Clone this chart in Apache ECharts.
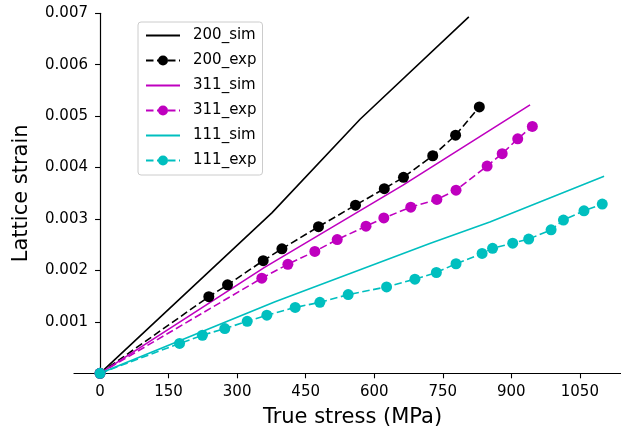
<!DOCTYPE html>
<html>
<head>
<meta charset="utf-8">
<script src="https://cdn.jsdelivr.net/npm/echarts@6/dist/echarts.min.js"></script>
<style>
  html, body { margin: 0; padding: 0; background: #ffffff; }
  #chart { width: 621px; height: 435px; }
</style>
</head>
<body>
<div id="chart"></div>
<script>
// Lattice strain vs. true stress for three grain families (simulation and experiment)
const seriesNames = ['200_sim', '200_exp', '311_sim', '311_exp', '111_sim', '111_exp'];

// True stress (MPa) and lattice strain for each series
const stress200Sim = [0, 376, 569, 807];
const strain200Sim = [0, 0.00312, 0.00494, 0.00693];

const stress200Exp = [0, 238, 279, 357, 398, 478, 559, 622, 664, 728, 778, 830];
const strain200Exp = [0, 0.00149, 0.00172, 0.00219, 0.00242, 0.00285, 0.00327, 0.00359, 0.00381, 0.00423, 0.00463, 0.00518];

const stress311Sim = [0, 360, 663, 941];
const strain311Sim = [0, 0.00206, 0.00366, 0.00522];

const stress311Exp = [0, 354, 411, 470, 519, 582, 621, 680, 737, 779, 847, 880, 914, 946];
const strain311Exp = [0, 0.00185, 0.00212, 0.00237, 0.00260, 0.00286, 0.00302, 0.00323, 0.00338, 0.00356, 0.00403, 0.00427, 0.00456, 0.00480];

const stress111Sim = [0, 383, 723, 853, 1103];
const strain111Sim = [0, 0.00139, 0.00253, 0.00294, 0.00383];

const stress111Exp = [0, 174, 224, 273, 322, 365, 427, 481, 543, 627, 689, 736, 779, 836, 859, 903, 938, 987, 1014, 1059, 1099];
const strain111Exp = [0, 0.00058, 0.00074, 0.00087, 0.00101, 0.00113, 0.00128, 0.00138, 0.00153, 0.00168, 0.00183, 0.00196, 0.00213, 0.00233, 0.00243, 0.00253, 0.00261, 0.00279, 0.00298, 0.00316, 0.00329];

// Axis ticks
const xTicks = [0, 150, 300, 450, 600, 750, 900, 1050];
const yTicks = [0.001, 0.002, 0.003, 0.004, 0.005, 0.006, 0.007];

const BLACK = '#000000';
const MAGENTA = '#bf00bf';
const CYAN = '#00bfbf';
const FONT = 'DejaVu Sans';

const zip = (xs, ys) => xs.map((x, i) => [x, ys[i]]);

function simSeries(name, color, xs, ys) {
  return {
    name: name,
    type: 'line',
    data: zip(xs, ys),
    symbol: 'none',
    lineStyle: { color: color, width: 1.6 },
    itemStyle: { color: color },
    animation: false,
    silent: true
  };
}

function expSeries(name, color, xs, ys) {
  return {
    name: name,
    type: 'line',
    data: zip(xs, ys),
    symbol: 'circle',
    symbolSize: 11,
    showAllSymbol: true,
    lineStyle: { color: color, width: 1.6, type: [7.5, 3.5] },
    itemStyle: { color: color, borderWidth: 0 },
    animation: false,
    silent: true
  };
}

// Simulated curves show a plain line in the legend, experimental ones a line with a dot
const legendData = seriesNames.map(n => n.endsWith('_sim')
  ? { name: n, itemStyle: { opacity: 0 } }
  : { name: n });

const chart = echarts.init(document.getElementById('chart'), null, { renderer: 'canvas' });

chart.setOption({
  backgroundColor: '#ffffff',
  animation: false,
  grid: { left: 74, right: 0, top: 13.3, bottom: 61.7, containLabel: false, outerBoundsMode: 'none' },
  xAxis: {
    type: 'value',
    min: -57,
    max: 1140,
    name: 'True stress (MPa)',
    nameLocation: 'middle',
    nameGap: 34,
    nameMoveOverlap: false,
    nameTextStyle: { fontFamily: FONT, fontSize: 21, color: '#000', padding: [0, 0, 0, 10] },
    axisLine: { onZero: true, lineStyle: { color: '#000', width: 1.2 } },
    axisTick: { show: true, length: 5, customValues: xTicks, lineStyle: { color: '#000', width: 1.1 } },
    axisLabel: {
      customValues: xTicks,
      margin: 11,
      fontFamily: FONT,
      fontSize: 15,
      color: '#000',
      formatter: v => String(v)
    },
    splitLine: { show: false }
  },
  yAxis: {
    type: 'value',
    min: 0,
    max: 0.007,
    name: 'Lattice strain',
    nameLocation: 'middle',
    nameGap: 42,
    nameMoveOverlap: false,
    nameTextStyle: { fontFamily: FONT, fontSize: 21, color: '#000' },
    axisLine: { onZero: true, lineStyle: { color: '#000', width: 1.2 } },
    axisTick: { show: true, length: 5, customValues: yTicks, lineStyle: { color: '#000', width: 1.1 } },
    axisLabel: {
      customValues: yTicks,
      margin: -14,
      fontFamily: FONT,
      fontSize: 15,
      color: '#000',
      formatter: v => v.toFixed(3)
    },
    splitLine: { show: false }
  },
  legend: {
    data: legendData,
    orient: 'vertical',
    left: 138,
    top: 22,
    itemWidth: 34,
    itemHeight: 12.5,
    itemGap: 10,
    padding: [6, 6, 7, 7],
    backgroundColor: 'rgba(255,255,255,0.8)',
    borderColor: '#cccccc',
    borderWidth: 1,
    borderRadius: 3,
    textStyle: { fontFamily: FONT, fontSize: 15, color: '#000', padding: [0, 0, 0, 8] },
    selectedMode: false
  },
  series: [
    simSeries('200_sim', BLACK, stress200Sim, strain200Sim),
    expSeries('200_exp', BLACK, stress200Exp, strain200Exp),
    simSeries('311_sim', MAGENTA, stress311Sim, strain311Sim),
    expSeries('311_exp', MAGENTA, stress311Exp, strain311Exp),
    simSeries('111_sim', CYAN, stress111Sim, strain111Sim),
    expSeries('111_exp', CYAN, stress111Exp, strain111Exp)
  ]
});
</script>
</body>
</html>
